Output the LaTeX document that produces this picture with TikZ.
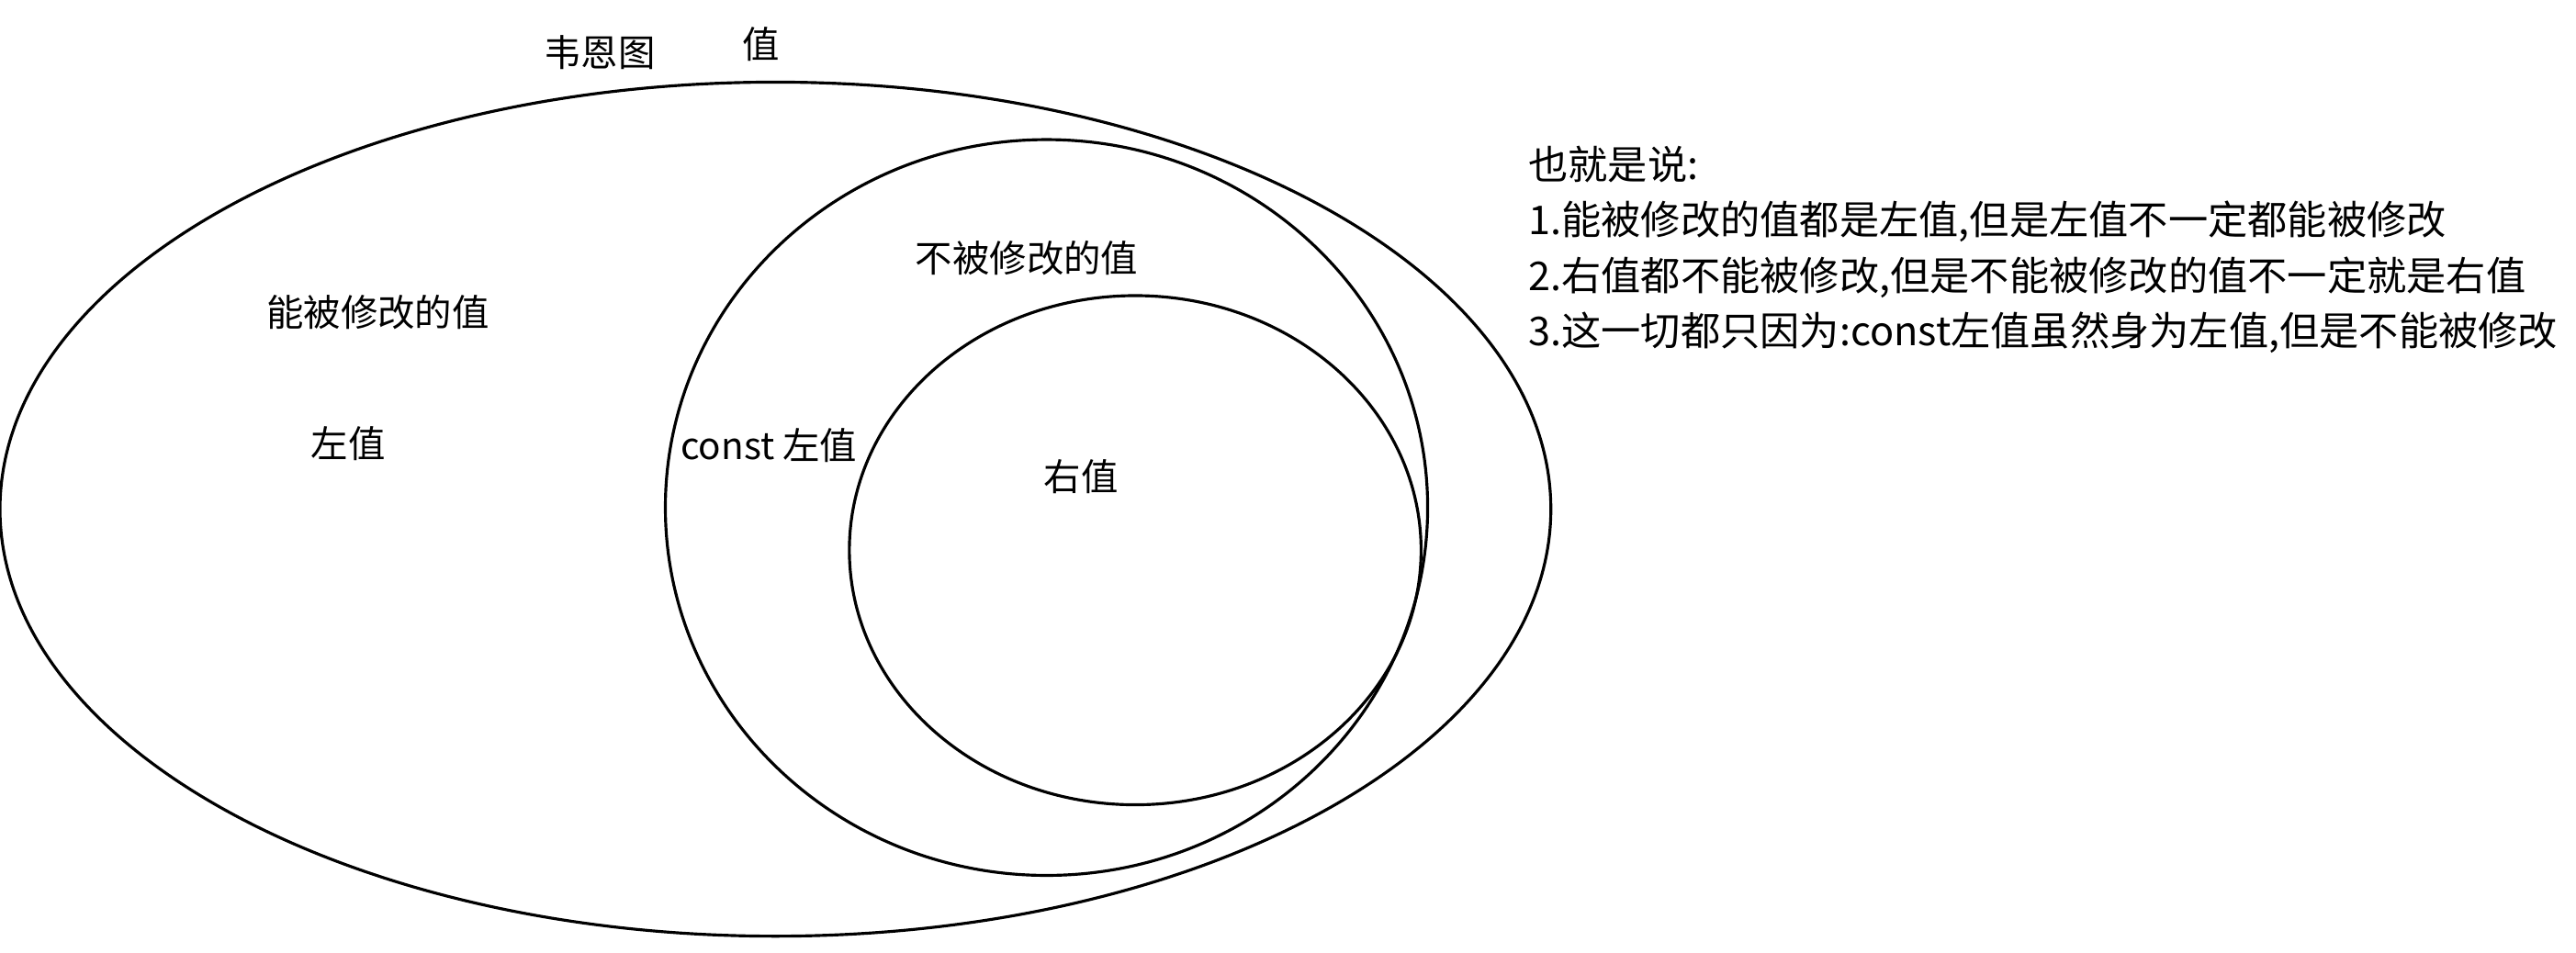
\documentclass[tikz,border=0pt]{standalone}
\usepackage{fontspec}
\setmainfont{Liberation Serif}
\newfontfamily\cjk{Noto Sans CJK SC}
\begin{document}
\begin{tikzpicture}[x=0.01789cm,y=-0.01789cm,
  lab/.style={font=\cjk\fontsize{11.5}{13}\selectfont, inner sep=0pt},
  venn/.style={draw=black, line width=0.9pt}]
\useasboundingbox (0,0) rectangle (1568,580);
\draw[venn] (472,310) ellipse [x radius=472, y radius=260];
\draw[venn] (637,309) ellipse [x radius=232, y radius=224];
\draw[venn] (691,335) ellipse [x radius=174, y radius=155];
\node[lab] (t1) at (365,32) {韦恩图};
\node[lab] (t2) at (463,27) {值};
\node[lab] (t3) at (230,190) {能被修改的值};
\node[lab] (t4) at (212,270) {左值};
\node[lab] (t5) at (625,157) {不被修改的值};
\node[lab] (t6) at (468,271) {const 左值};
\node[lab] (t7) at (658,290) {右值};
\node[lab, anchor=west, align=left, font=\cjk\fontsize{12.3}{17.2}\selectfont] (note) at (930,152)
{也就是说:\\1.能被修改的值都是左值,但是左值不一定都能被修改\\2.右值都不能被修改,但是不能被修改的值不一定就是右值\\3.这一切都只因为:const左值虽然身为左值,但是不能被修改};
\end{tikzpicture}
\end{document}
